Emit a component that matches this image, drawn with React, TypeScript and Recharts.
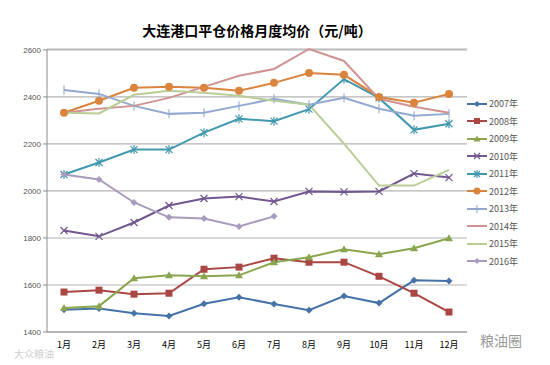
import { LineChart, Line, XAxis, YAxis, CartesianGrid } from 'recharts';

const months = ['1月', '2月', '3月', '4月', '5月', '6月', '7月', '8月', '9月', '10月', '11月', '12月'];
const yTicks = [1400, 1600, 1800, 2000, 2200, 2400, 2600];

const y2007 = [1495, 1500, 1480, 1468, 1520, 1548, 1519, 1493, 1553, 1523, 1620, 1617];
const y2008 = [1570, 1578, 1561, 1565, 1667, 1676, 1714, 1697, 1697, 1637, 1565, 1485];
const y2009 = [1502, 1510, 1629, 1641, 1637, 1641, 1697, 1718, 1752, 1731, 1756, 1799];
const y2010 = [1832, 1807, 1866, 1938, 1968, 1976, 1955, 1998, 1996, 1998, 2074, 2057];
const y2011 = [2070, 2121, 2176, 2176, 2248, 2307, 2297, 2348, 2476, 2396, 2260, 2286];
const y2012 = [2333, 2384, 2439, 2443, 2439, 2426, 2460, 2502, 2494, 2400, 2375, 2413];
const y2013 = [2430, 2413, 2362, 2328, 2333, 2362, 2392, 2367, 2396, 2350, 2320, 2328];
const y2014 = [2333, 2350, 2362, 2396, 2443, 2490, 2519, 2604, 2553, 2392, 2358, 2333];
const y2015 = [2333, 2330, 2409, 2426, 2418, 2405, 2384, 2367, 2201, 2023, 2023, 2090];
const y2016 = [2070, 2049, 1951, 1888, 1883, 1849, 1892, null, null, null, null, null];

const series = [
  { key: 'y2007', name: '2007年', color: '#4572A7', shape: 'diamond', values: y2007 },
  { key: 'y2008', name: '2008年', color: '#AA4643', shape: 'square', values: y2008 },
  { key: 'y2009', name: '2009年', color: '#89A54E', shape: 'triangle', values: y2009 },
  { key: 'y2010', name: '2010年', color: '#71588F', shape: 'x', values: y2010 },
  { key: 'y2011', name: '2011年', color: '#4198AF', shape: 'star', values: y2011 },
  { key: 'y2012', name: '2012年', color: '#DB843D', shape: 'circle', values: y2012 },
  { key: 'y2013', name: '2013年', color: '#93A9CF', shape: 'plus', values: y2013 },
  { key: 'y2014', name: '2014年', color: '#D19392', shape: 'none', values: y2014 },
  { key: 'y2015', name: '2015年', color: '#B9CD96', shape: 'none', values: y2015 },
  { key: 'y2016', name: '2016年', color: '#A99BBD', shape: 'diamond', values: y2016 },
];

const data = months.map((m, i) => {
  const row: Record<string, string | number | null> = { month: m };
  series.forEach((s) => {
    row[s.key] = s.values[i];
  });
  return row;
});

function Marker({ shape, color, x, y, r = 3.5 }: { shape: string; color: string; x: number; y: number; r?: number }) {
  switch (shape) {
    case 'diamond':
      return <polygon points={`${x},${y - r} ${x + r},${y} ${x},${y + r} ${x - r},${y}`} fill={color} />;
    case 'square':
      return <rect x={x - r} y={y - r} width={r * 2} height={r * 2} fill={color} />;
    case 'triangle':
      return <polygon points={`${x},${y - r - 0.5} ${x + r + 0.5},${y + r - 0.5} ${x - r - 0.5},${y + r - 0.5}`} fill={color} />;
    case 'circle':
      return <circle cx={x} cy={y} r={r + 0.5} fill={color} />;
    case 'x':
      return (
        <g stroke={color} strokeWidth={1.2}>
          <line x1={x - r} y1={y - r} x2={x + r} y2={y + r} />
          <line x1={x - r} y1={y + r} x2={x + r} y2={y - r} />
        </g>
      );
    case 'star':
      return (
        <g stroke={color} strokeWidth={1.2}>
          <line x1={x - r} y1={y - r} x2={x + r} y2={y + r} />
          <line x1={x - r} y1={y + r} x2={x + r} y2={y - r} />
          <line x1={x} y1={y - r - 1} x2={x} y2={y + r + 1} />
        </g>
      );
    case 'plus':
      return (
        <g stroke={color} strokeWidth={1.1}>
          <line x1={x} y1={y - r - 1} x2={x} y2={y + r + 1} />
        </g>
      );
    default:
      return null;
  }
}

function makeDot(shape: string, color: string) {
  return (props: any) => {
    const { cx, cy, index } = props;
    if (shape === 'none' || cx == null || cy == null || Number.isNaN(cy)) {
      return <g key={`d-${index}`} />;
    }
    return (
      <g key={`d-${index}`}>
        <Marker shape={shape} color={color} x={cx} y={cy} />
      </g>
    );
  };
}

const cjk = '"Noto Sans CJK SC", sans-serif';

export default function App() {
  return (
    <div style={{ position: 'absolute', left: 0, top: 0, width: 550, height: 365, background: '#fff', fontFamily: cjk }}>
      <div
        style={{
          position: 'absolute',
          left: 47,
          width: 420,
          top: 20,
          textAlign: 'center',
          fontWeight: 'bold',
          fontSize: 14,
          color: '#000',
        }}
      >
        大连港口平仓价格月度均价（元/吨）
      </div>
      <LineChart width={550} height={365} data={data} margin={{ top: 49, right: 83, bottom: 3, left: 0 }}>
        <CartesianGrid vertical={false} stroke="#B4B4B4" strokeWidth={1.2} />
        <XAxis
          dataKey="month"
          height={30}
          padding={{ left: 17, right: 18 }}
          stroke="#8C8C8C"
          tickLine={false}
          tick={{ fontSize: 9, fill: '#000', fontFamily: cjk }}
          interval={0}
          tickMargin={4}
        />
        <YAxis
          width={47}
          domain={[1400, 2600]}
          ticks={yTicks}
          stroke="#8C8C8C"
          tickSize={4}
          tick={{ fontSize: 8, fill: '#555', fontFamily: '"Liberation Sans", sans-serif' }}
          interval={0}
        />
        {series.map((s) => (
          <Line
            key={s.key}
            dataKey={s.key}
            name={s.name}
            stroke={s.color}
            strokeWidth={2}
            dot={makeDot(s.shape, s.color)}
            activeDot={false}
            connectNulls={false}
            isAnimationActive={false}
          />
        ))}
      </LineChart>
      <div style={{ position: 'absolute', left: 466, top: 95 }}>
        {series.map((s) => (
          <div key={s.key} style={{ display: 'flex', alignItems: 'center', height: 17.5 }}>
            <svg width={22} height={12}>
              <line x1={1} y1={6} x2={21} y2={6} stroke={s.color} strokeWidth={2} />
              <Marker shape={s.shape} color={s.color} x={11} y={6} r={3} />
            </svg>
            <span style={{ fontSize: 9, color: '#555', marginLeft: 1 }}>{s.name}</span>
          </div>
        ))}
      </div>
      <div style={{ position: 'absolute', left: 480, top: 330, fontSize: 14, color: '#9a9a9a' }}>粮油圈</div>
      <div style={{ position: 'absolute', left: 14, top: 346, fontSize: 10, color: '#d0d0d0' }}>大众粮油</div>
    </div>
  );
}
